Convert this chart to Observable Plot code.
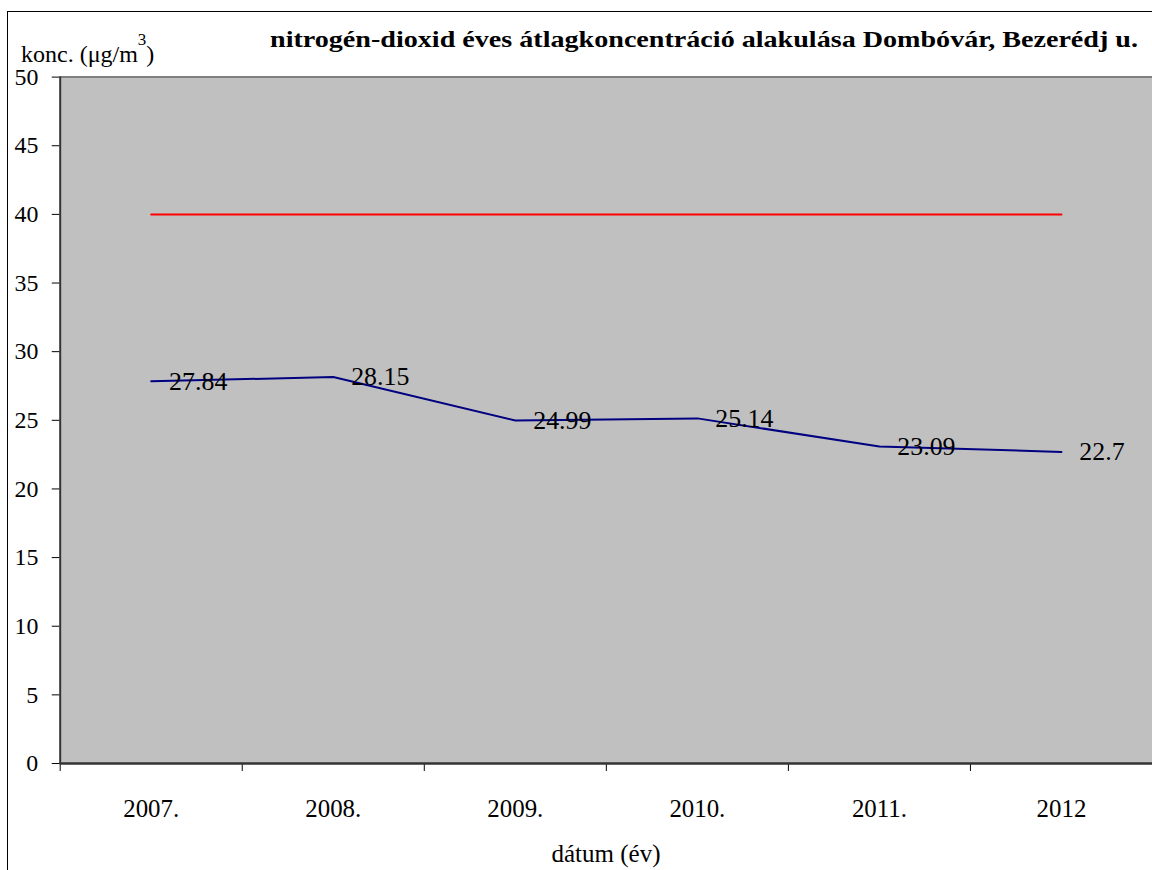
<!DOCTYPE html>
<html>
<head>
<meta charset="utf-8">
<script src="https://cdn.jsdelivr.net/npm/d3@7"></script>
<script src="https://cdn.jsdelivr.net/npm/@observablehq/plot@0.6"></script>
<style>
html, body { margin: 0; padding: 0; overflow: hidden; background: #fff; width: 1152px; height: 870px; }
#wrap { position: relative; width: 1152px; height: 870px; overflow: hidden; }
#border { position: absolute; left: 7px; top: 11px; width: 2000px; height: 2000px; border-left: 1.5px solid #000; border-top: 1.5px solid #000; }
#overlay { position: absolute; left: 0; top: 0; pointer-events: none; }
#chart { position: absolute; left: 0; top: 0; }
</style>
</head>
<body>
<div id="wrap">
  <div id="border"></div>
  <div id="chart"></div>
  <svg id="overlay" width="1152" height="870"></svg>
</div>
<script>
const years = ["2007.", "2008.", "2009.", "2010.", "2011.", "2012"];
const no2 = [27.84, 28.15, 24.99, 25.14, 23.09, 22.7];
const limitValues = [40, 40, 40, 40, 40, 40];
const yTicks = [0, 5, 10, 15, 20, 25, 30, 35, 40, 45, 50];
const titleText = "nitrogén-dioxid éves átlagkoncentráció alakulása Dombóvár, Bezerédj u.";
const yLabel = "konc. (μg/m";
const yLabelSup = "3";
const xLabel = "dátum (év)";

const FONT = "Liberation Serif";
const data = years.map((year, i) => ({pos: i + 0.5, year, value: no2[i], limit: limitValues[i]}));
const bounds = d3.range(years.length + 1);

const chart = Plot.plot({
  width: 1158,
  height: 870,
  marginLeft: 60,
  marginRight: 0,
  marginTop: 77,
  marginBottom: 103,
  style: {background: "transparent", color: "#000"},
  x: {domain: [0, years.length]},
  y: {domain: [0, 50]},
  marks: [
    Plot.frame({fill: "#C0C0C0", stroke: null}),
    Plot.ruleY([50], {stroke: "#808080", strokeWidth: 2}),
    Plot.axisY({ticks: yTicks, tickSize: 8, tickPadding: 14, fontSize: 24, fontFamily: FONT, label: null, stroke: "#000"}),
    Plot.axisX({ticks: bounds, tickSize: 8, tickFormat: () => "", label: null}),
    Plot.axisX({ticks: data.map(d => d.pos), tickSize: 0, tickPadding: 36, fontSize: 25, fontFamily: FONT, label: null,
      tickFormat: p => years[Math.round(p - 0.5)]}),
    Plot.ruleX([0], {stroke: "#333", strokeWidth: 2}),
    Plot.ruleY([0], {stroke: "#333", strokeWidth: 2.5}),
    Plot.line(data, {x: "pos", y: "limit", stroke: "#FF0000", strokeWidth: 2}),
    Plot.line(data, {x: "pos", y: "value", stroke: "#000080", strokeWidth: 2}),
    Plot.text(data, {x: "pos", y: "value", text: d => String(d.value), dx: 18, textAnchor: "start", fontSize: 26, fontFamily: FONT, fill: "#000"})
  ]
});
document.getElementById("chart").appendChild(chart);

const ov = d3.select("#overlay");
ov.append("text").attr("x", 270).attr("y", 47).attr("font-size", 24).attr("font-weight", "bold").attr("font-family", FONT)
  .attr("textLength", 868).attr("lengthAdjust", "spacingAndGlyphs").text(titleText);
const yl = ov.append("text").attr("x", 21).attr("y", 62).attr("font-size", 24).attr("font-family", FONT);
yl.append("tspan").text(yLabel);
yl.append("tspan").attr("dy", -17).attr("font-size", 17).text(yLabelSup);
yl.append("tspan").attr("dy", 17).text(")");
ov.append("text").attr("x", 606).attr("y", 862).attr("font-size", 25).attr("font-family", FONT).attr("text-anchor", "middle").text(xLabel);
</script>
</body>
</html>
